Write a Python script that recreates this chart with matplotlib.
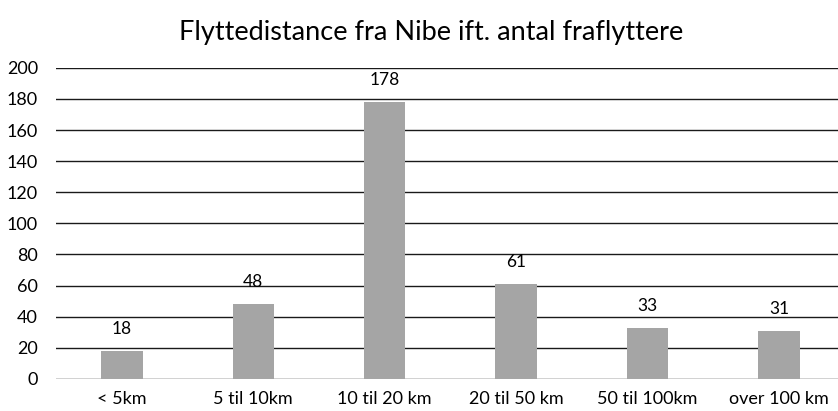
import matplotlib
matplotlib.use("Agg")
import matplotlib.pyplot as plt

categories = ["< 5km", "5 til 10km", "10 til 20 km", "20 til 50 km", "50 til 100km", "over 100 km"]
values = [18, 48, 178, 61, 33, 31]
yticks = [0, 20, 40, 60, 80, 100, 120, 140, 160, 180, 200]
title = "Flyttedistance fra Nibe ift. antal fraflyttere"

plt.rcParams['font.family'] = ['Lato', 'DejaVu Sans']

fig = plt.figure(figsize=(8.38, 4.11), dpi=100)
# axes extends slightly past the right edge, as in the reference
ax = fig.add_axes([0.067, 0.078, 0.941, 0.757])

x = range(len(categories))
ax.bar(x, values, width=0.315, color="#A5A5A5", zorder=3)
for xi, v in zip(x, values):
    ax.annotate(str(v), (xi, v), xytext=(0, 10), textcoords="offset points",
                ha="center", va="bottom", fontsize=12.5, color="#000000")

ax.set_ylim(0, 200)
ax.set_xlim(-0.5, len(categories) - 0.5)
ax.set_yticks(yticks)
ax.set_xticks(list(x))
ax.set_xticklabels(categories)
ax.grid(axis="y", color="#1a1a1a", linewidth=1.0, zorder=0)
ax.set_axisbelow(True)
for s in ax.spines.values():
    s.set_visible(False)
ax.tick_params(axis="both", length=0, labelsize=13, colors="#000000")
ax.tick_params(axis="y", pad=13)
ax.tick_params(axis="x", pad=9)

fig.text(0.515, 0.922, title, ha="center", va="center", fontsize=19.5, color="#000000")

fig.savefig("out.png", dpi=100)
